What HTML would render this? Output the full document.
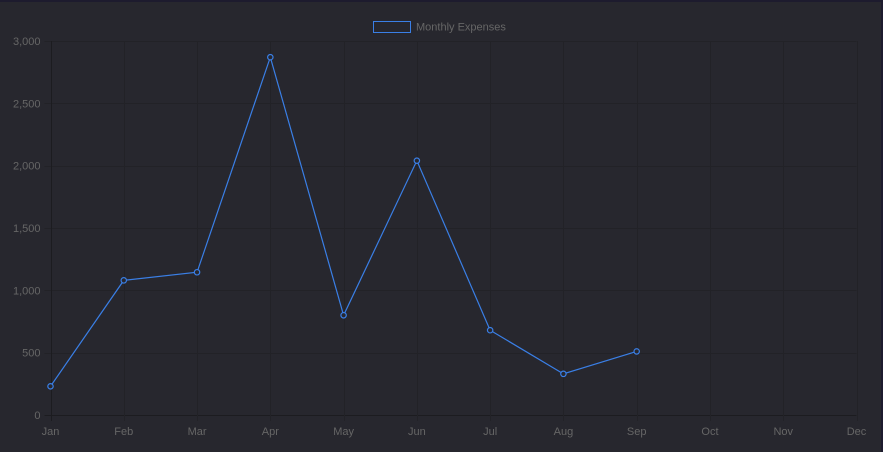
<!DOCTYPE html>
<html><head><meta charset="utf-8"><style>
html,body{margin:0;padding:0;background:#27272e;}
body{width:883px;height:452px;overflow:hidden;position:relative;}
svg{position:absolute;left:0;top:0;font-family:"Liberation Sans",sans-serif;}
</style></head><body>
<svg id="chart" width="883" height="452"></svg>
<script>
const categories=["Jan","Feb","Mar","Apr","May","Jun","Jul","Aug","Sep","Oct","Nov","Dec"];
const expenses=[230,1080,1145,2870,800,2040,680,330,510];
const yTicks=[0,500,1000,1500,2000,2500,3000];
const yTickLabels=["0","500","1,000","1,500","2,000","2,500","3,000"];
const seriesName="Monthly Expenses";

const svg=document.getElementById('chart');
const NS="http://www.w3.org/2000/svg";
const L=50.5,R=856.5,T=41,B=415;
const x=i=>L+(R-L)*i/(categories.length-1);
const y=v=>B-(B-T)*v/3000;
function mk(tag,attrs,parent){const e=document.createElementNS(NS,tag);for(const k in attrs)e.setAttribute(k,attrs[k]);(parent||svg).appendChild(e);return e;}

const topBorder=mk('rect',{x:0,y:0,width:883,height:2,fill:'#1d1b2e'});


const rightBorder=mk('rect',{x:881,y:0,width:2,height:452,fill:'#1d1b2e'});



const grid=mk('g',{});


yTicks.forEach((v,i)=>{
  const ln=mk('line',{x1:L-6,x2:R,y1:Math.round(y(v))+0.5,y2:Math.round(y(v))+0.5,stroke:v===0?'#1c1c20':'#222227','stroke-width':1},grid);
  
  
  const t=mk('text',{x:L-10,y:y(v)+4,'text-anchor':'end','font-size':11,fill:'#666'},svg);
  t.textContent=yTickLabels[i];
  
  
});
categories.forEach((c,i)=>{
  const ln=mk('line',{x1:Math.round(x(i))+0.5,x2:Math.round(x(i))+0.5,y1:T,y2:B+6,stroke:i===0?'#1c1c20':'#222227','stroke-width':1},grid);
  
  
  const t=mk('text',{x:x(i),y:435,'text-anchor':'middle','font-size':11,fill:'#666'},svg);
  t.textContent=c;
  
  
});

const pts=expenses.map((v,i)=>x(i)+','+y(v)).join(' ');
const line=mk('polyline',{points:pts,fill:'none',stroke:'#3a7fe6','stroke-width':1.2});


expenses.forEach((v,i)=>{
  const c=mk('circle',{cx:x(i),cy:y(v),r:2.7,fill:'#27272e',stroke:'#3a7fe6','stroke-width':1.2});
  
  
});

const lg=mk('g',{});


mk('rect',{x:373.5,y:21.5,width:37,height:11,fill:'none',stroke:'#3a7fe6','stroke-width':1},lg);
const lt=mk('text',{x:416,y:30.5,'font-size':11,fill:'#666'},lg);
lt.textContent=seriesName;
</script>
</body></html>
